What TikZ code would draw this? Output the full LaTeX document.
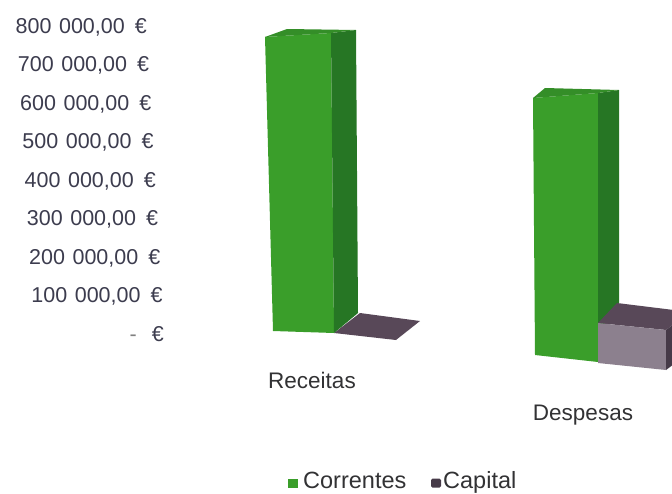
\documentclass[tikz,border=0pt]{standalone}
\usepackage{fontspec}
\setmainfont{Liberation Sans}
\usepackage{tikz}
\usepackage{xcolor}

\definecolor{verdefront}{RGB}{58,158,42}
\definecolor{verdeside}{RGB}{38,118,36}
\definecolor{verdetop}{RGB}{52,142,40}
\definecolor{capfront}{RGB}{140,128,142}
\definecolor{captop}{RGB}{88,72,88}
\definecolor{capside}{RGB}{70,58,72}
\definecolor{axisgray}{RGB}{60,60,78}
\definecolor{txtgray}{RGB}{50,50,52}

\begin{document}
\begin{tikzpicture}[x=1pt,y=-1pt,
  axislbl/.style={anchor=base east, text=axisgray, inner sep=0pt, font=\fontsize{21.5}{21.5}\selectfont},
  catlbl/.style={text=txtgray, inner sep=0pt, font=\fontsize{22.5}{22.5}\selectfont},
  legtxt/.style={anchor=base west, text=txtgray, inner sep=0pt, font=\fontsize{23.5}{23.5}\selectfont},
  legbox/.style={minimum width=10pt, minimum height=9pt, inner sep=0pt}]
\useasboundingbox (0,0) rectangle (672,493);

% Value axis
\foreach \v/\i in {800/8,700/7,600/6,500/5,400/4,300/3,200/2,100/1}
  \node[axislbl] (ax\v) at ({147+2.25*(8-\i)},{341-38.5*\i}) {\v\hspace{7.5pt}000,00\hspace{10pt}€};
\node[axislbl] (ax0) at (164,341) {\textcolor{gray}{-}\hspace{15pt}€};

% Receitas
\fill[captop] (334,333) -- (360,313) -- (420,321) -- (396,340) -- cycle;
\fill[verdefront] (265,37) -- (331,33) -- (334,333) -- (273,331) -- cycle;
\fill[verdeside] (331,33) -- (356,30) -- (358,313) -- (334,333) -- cycle;
\fill[verdetop] (265,37) -- (287,29) -- (356,30) -- (331,33) -- cycle;

% Despesas
\fill[verdefront] (533,98) -- (598,93) -- (598,362) -- (535,355) -- cycle;
\fill[verdeside] (598,93) -- (619,90) -- (619,320) -- (598,330) -- cycle;
\fill[verdetop] (533,98) -- (545,88) -- (619,90) -- (598,93) -- cycle;
\fill[captop] (598,323) -- (617,303) -- (690,312) -- (666,330) -- cycle;
\fill[capfront] (598,323) -- (666,330) -- (666,370) -- (598,363) -- cycle;
\fill[capside] (666,330) -- (690,312) -- (690,352) -- (666,370) -- cycle;

% Categories
\node[catlbl] (rec) at (312,380) {Receitas};
\node[catlbl] (desp) at (583,415) {Despesas};

% Legend
\node[legbox, fill=verdefront] (lgcor) at (293,483) {};
\node[legtxt] (tcor) at (303,488) {Correntes};
\node[legbox, fill=capside, rounded corners=1.5pt] (lgcap) at (436,483) {};
\node[legtxt] (tcap) at (443,488) {Capital};
\end{tikzpicture}
\end{document}
